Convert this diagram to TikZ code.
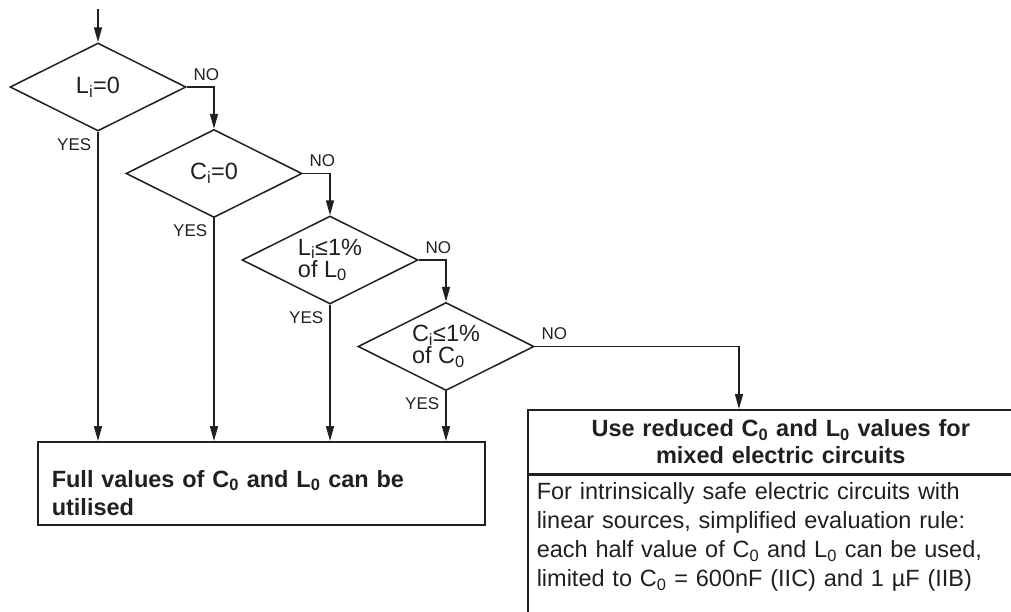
\documentclass[tikz,border=0pt]{standalone}
\usepackage{fontspec}
\setmainfont{Liberation Sans}
\usetikzlibrary{shapes.geometric, positioning, arrows.meta}
\definecolor{ink}{RGB}{35,31,32}

\begin{document}
\begin{tikzpicture}[x=1pt, y=-1pt, >={Triangle[length=15pt,width=8pt]}, node distance=86.5pt and 116pt, on grid, line width=1.5pt, color=ink,
    decision/.style={diamond, draw, aspect=2, minimum width=176pt, minimum height=88pt, inner sep=0pt, align=left, font=\fontsize{23.5}{22}\selectfont},
    nolabel/.style={anchor=south west, inner sep=6pt, font=\fontsize{17}{17}\selectfont},
    yeslabel/.style={anchor=north east, inner sep=6pt, font=\fontsize{17}{17}\selectfont},
    fullbox/.style={draw, minimum width=447pt, minimum height=83pt, inner xsep=14pt, text width=419pt, text height=36pt, align=left, font=\fontsize{23.5}{28}\bfseries},
    headbox/.style={draw, minimum width=506pt, minimum height=64pt, text width=480pt, align=center, font=\fontsize{23.5}{27}\bfseries},
    rulebox/.style={draw, minimum width=506pt, inner xsep=9pt, inner ysep=7pt, text width=488pt, text depth=150pt, align=left, font=\fontsize{23.5}{29}\selectfont}]

    \useasboundingbox (0,0) rectangle (1011,611);
    \clip (0,0) rectangle (1011,611);

    \node[decision] (d1) at (98,87) {L\textsubscript{i}=0};
    \node[decision, below right=of d1] (d2) {C\textsubscript{i}=0};
    \node[decision, below right=of d2] (d3) {L\textsubscript{i}≤1\%\\of L\textsubscript{0}};
    \node[decision, below right=of d3] (d4) {C\textsubscript{i}≤1\%\\of C\textsubscript{0}};
    \coordinate[above=33pt of d1.north] (entry);

    \node[fullbox, anchor=north west] (full) at (37,441) {Full values of C\textsubscript{0} and L\textsubscript{0} can be\\utilised};
    \node[headbox, anchor=north west] (reduced) at (527,409) {Use reduced C\textsubscript{0} and L\textsubscript{0} values for\\mixed electric circuits};
    \node[rulebox, anchor=north west] (rule) at (reduced.south west) {For intrinsically safe electric circuits with\\linear sources, simplified evaluation rule:\\each half value of C\textsubscript{0} and L\textsubscript{0} can be used,\\limited to C\textsubscript{0} = 600nF (IIC) and 1 µF (IIB)};

    \draw[->] (entry) -- (d1.north);
    \draw[->] (d1.east) node[nolabel] {NO} -| (d2.north);
    \draw[->] (d2.east) node[nolabel] {NO} -| (d3.north);
    \draw[->] (d3.east) node[nolabel] {NO} -| (d4.north);
    \draw[->] (d4.east) node[nolabel] {NO} -| ([xshift=212pt]reduced.north west);
    \foreach \d in {d1,d2,d3,d4}
        \draw[->] (\d.south) node[yeslabel] {YES} -- (\d.south |- full.north);

\end{tikzpicture}
\end{document}
